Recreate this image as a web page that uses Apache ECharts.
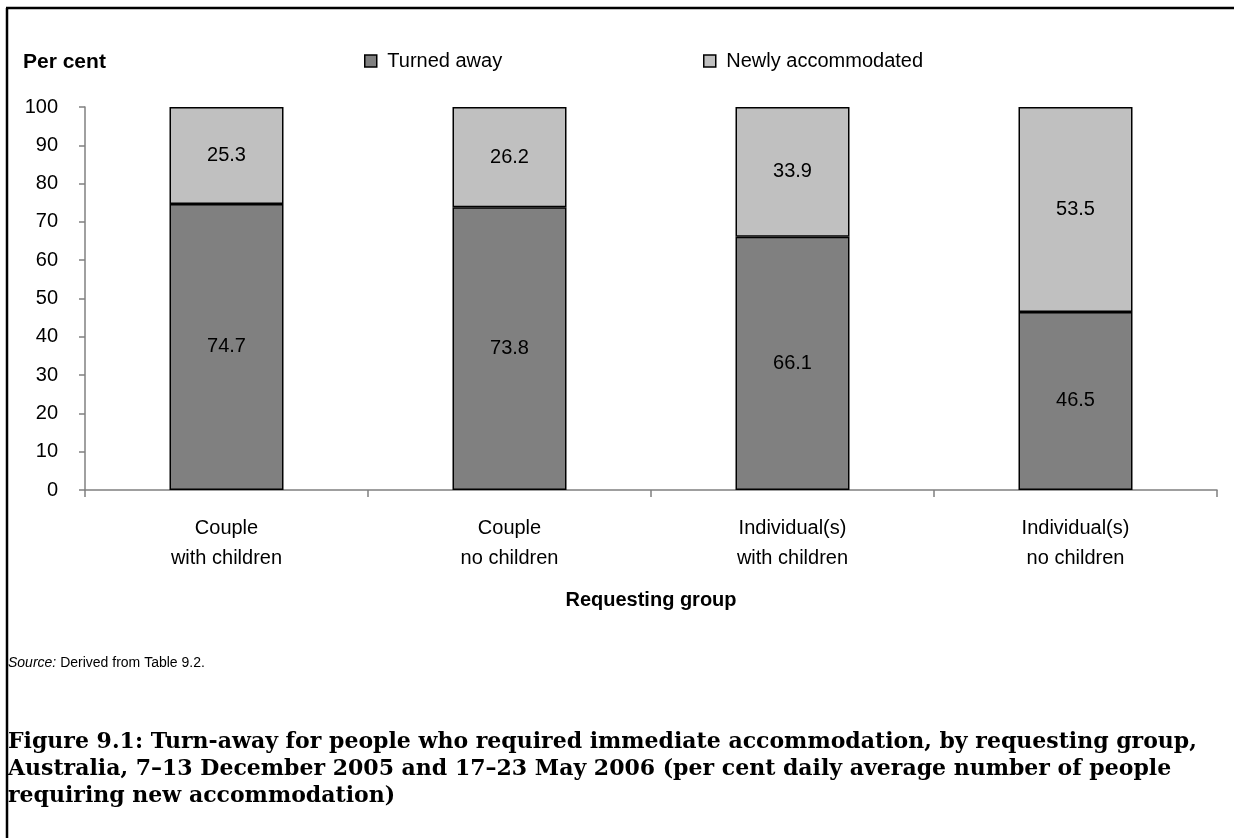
<!DOCTYPE html>
<html><head><meta charset="utf-8">
<script src="https://cdn.jsdelivr.net/npm/echarts@6/dist/echarts.min.js"></script>
<style>html,body{margin:0;padding:0;background:#fff;}#c{width:1234px;height:838px;}</style>
</head><body><div id="c"></div>
<script>
var categories = ['Couple\nwith children', 'Couple\nno children', 'Individual(s)\nwith children', 'Individual(s)\nno children'];
var turnedAway = [74.7, 73.8, 66.1, 46.5];
var newlyAccommodated = [25.3, 26.2, 33.9, 53.5];
var seriesNames = ['Turned away', 'Newly accommodated'];
var yTicks = [0, 10, 20, 30, 40, 50, 60, 70, 80, 90, 100];

var font = 'Liberation Sans, Arial, sans-serif';
var chart = echarts.init(document.getElementById('c'), null, {renderer: 'canvas'});
var labelStyle = {show: true, position: 'inside', color: '#000', fontFamily: font, fontSize: 20,
  formatter: function (p) { return p.value.toFixed(1); }};
function legendOf(name, left) {
  return {
    data: [name], top: 46, left: left,
    itemWidth: 12, itemHeight: 12, icon: 'rect',
    formatter: function (n) { return ' ' + n; },
    textStyle: {fontFamily: font, fontSize: 20, color: '#000'},
    itemStyle: {borderColor: '#000', borderWidth: 1.5}
  };
}
chart.setOption({
  animation: false,
  backgroundColor: '#fff',
  textStyle: {fontFamily: font},
  legend: [legendOf(seriesNames[0], 359), legendOf(seriesNames[1], 698)],
  grid: {left: 85, right: 17, top: 107, bottom: 348, containLabel: false},
  xAxis: {
    type: 'category', data: categories,
    name: 'Requesting group', nameLocation: 'middle', nameGap: 100,
    nameTextStyle: {fontFamily: font, fontSize: 20, fontWeight: 'bold', color: '#000'},
    axisLine: {lineStyle: {color: '#808080', width: 1.5}},
    axisTick: {show: true, length: 7, inside: false, lineStyle: {color: '#808080', width: 1.5}},
    axisLabel: {fontFamily: font, fontSize: 20, color: '#000', lineHeight: 30, margin: 23}
  },
  yAxis: {
    type: 'value', min: 0, max: 100, interval: 10,
    axisLine: {show: true, lineStyle: {color: '#808080', width: 1.5}},
    axisTick: {show: true, length: 6, lineStyle: {color: '#808080', width: 1.5}},
    splitLine: {show: false},
    axisLabel: {fontFamily: font, fontSize: 20, color: '#000', margin: 27,
      formatter: function (v) { return yTicks.indexOf(v) >= 0 ? String(v) : ''; }}
  },
  series: [
    {name: seriesNames[0], type: 'bar', stack: 'a', data: turnedAway, barWidth: 114,
      itemStyle: {color: '#808080', borderColor: '#000', borderWidth: 1.5}, label: labelStyle},
    {name: seriesNames[1], type: 'bar', stack: 'a', data: newlyAccommodated, barWidth: 114,
      itemStyle: {color: '#c0c0c0', borderColor: '#000', borderWidth: 1.5}, label: labelStyle}
  ],
  graphic: [
    {type: 'line', shape: {x1: 7, y1: 8, x2: 7, y2: 838}, style: {stroke: '#000', lineWidth: 2.5}},
    {type: 'line', shape: {x1: 6, y1: 8, x2: 1234, y2: 8}, style: {stroke: '#000', lineWidth: 2.5}},
    {type: 'text', left: 23, top: 52, style: {text: 'Per cent', fontFamily: font, fontSize: 21, fontWeight: 'bold', fill: '#000'}},
    {type: 'text', left: 8, top: 656, style: {
      text: '{i|Source:} Derived from Table 9.2.',
      rich: {i: {fontStyle: 'italic', fontFamily: font, fontSize: 14, fill: '#000'}},
      fontFamily: font, fontSize: 14, fill: '#000'}},
    {type: 'text', left: 8, top: 729, style: {
      text: 'Figure 9.1: Turn-away for people who required immediate accommodation, by requesting group,\nAustralia, 7\u201313 December 2005 and 17\u201323 May 2006 (per cent daily average number of people\nrequiring new accommodation)',
      fontFamily: 'DejaVu Serif, serif', fontSize: 22, fontWeight: 'bold', lineHeight: 27, fill: '#000'}}
  ]
});
</script></body></html>
